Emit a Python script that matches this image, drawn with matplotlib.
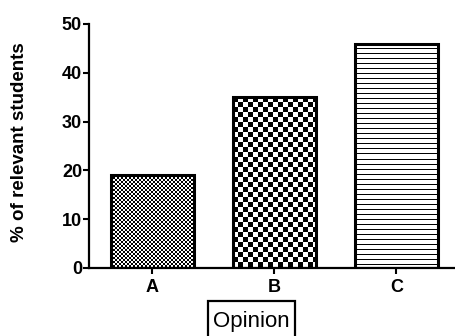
import numpy as np
import matplotlib
matplotlib.use("Agg")
import matplotlib.pyplot as plt
from matplotlib.patches import Rectangle

plt.rcParams['font.family'] = ['Liberation Sans', 'DejaVu Sans']

categories = ['A', 'B', 'C']
values = [19, 35, 46]
yticks = [0, 10, 20, 30, 40, 50]
ylabel = '% of relevant students'
xlabel = 'Opinion'

fig = plt.figure(figsize=(4.55, 3.36), dpi=100)
ax = fig.add_axes([89/455, (336-268)/336, 1 - 89/455, (268-24)/336])

x = np.arange(len(categories))
bars = ax.bar(x, values, width=0.68, facecolor='none', edgecolor='black',
              linewidth=2.2, zorder=3)
ax.set_xlim(-0.52, 2.48)
ax.set_ylim(0, 50)

def pattern(kind, h, w):
    yy, xx = np.mgrid[0:h, 0:w]
    if kind == 'fine':
        return ((xx // 2 + yy // 2) % 2).astype(float)
    if kind == 'coarse':
        return ((xx // 5 + yy // 5) % 2).astype(float)
    return (yy % 5 != 0).astype(float)

kinds = ['fine', 'coarse', 'lines']
for bar, kind in zip(bars, kinds):
    x0, y0 = bar.get_x(), bar.get_y()
    x1, y1 = x0 + bar.get_width(), y0 + bar.get_height()
    (px0, py0), (px1, py1) = ax.transData.transform([(x0, y0), (x1, y1)])
    w = max(int(round(px1 - px0)), 1)
    h = max(int(round(py1 - py0)), 1)
    img = pattern(kind, h, w)
    im = ax.imshow(img, extent=(x0, x1, y0, y1), origin='upper', cmap='gray',
                   vmin=0, vmax=1, interpolation='nearest', aspect='auto', zorder=2)
    im.set_clip_path(bar)

ax.set_xlim(-0.52, 2.48)
ax.set_ylim(0, 50)

ax.spines['top'].set_visible(False)
ax.spines['right'].set_visible(False)
ax.spines['left'].set_linewidth(1.6)
ax.spines['bottom'].set_linewidth(1.6)
ax.set_yticks(yticks)
ax.set_xticks(x)
ax.set_xticklabels(categories)
ax.tick_params(axis='both', direction='out', length=4, width=1.5,
               labelsize=13)
for lab in ax.get_xticklabels() + ax.get_yticklabels():
    lab.set_fontweight('bold')
ax.tick_params(axis='y', pad=1)
ax.tick_params(axis='x', pad=4)

fig.text(20/455, 1 - 142/336, ylabel, rotation=90, ha='center', va='center',
         fontsize=13.5, fontweight='bold')

fig.text(251.5/455, (336-327)/336, xlabel, ha='center', va='baseline',
         fontsize=16)
fig.add_artist(Rectangle((208/455, -0.05), (295-208)/455, 0.05 + (336-301)/336,
                         transform=fig.transFigure, facecolor='none',
                         edgecolor='black', linewidth=1.6, clip_on=False))

fig.savefig('out.png', dpi=100)
